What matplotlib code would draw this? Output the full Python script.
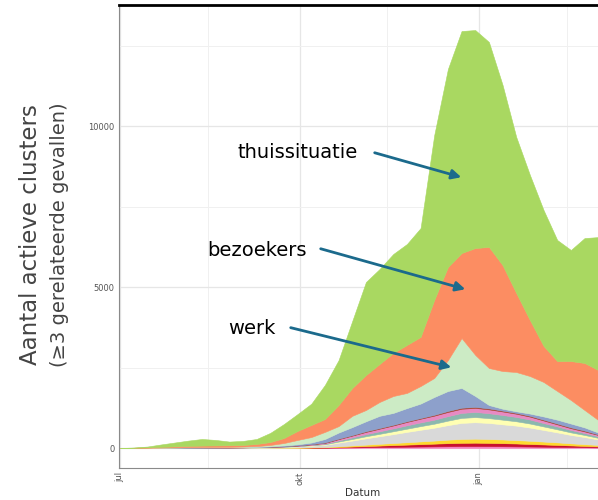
import numpy as np
import pandas as pd
import matplotlib
matplotlib.use('Agg')
import matplotlib.pyplot as plt
import matplotlib.dates as mdates

# weekly dates
datums = pd.date_range('2020-07-01', periods=36, freq='7D')

# number of active clusters per setting (bottom -> top)
roze = [0, 0, 0, 0, 1, 1, 1, 1, 1, 2, 2, 3, 4, 5, 8, 10, 15, 20, 25, 30, 35, 40, 45, 50, 55, 60, 60, 58, 55, 50, 45, 40, 35, 30, 25, 20]
rood = [0, 0, 0, 0, 0, 0, 0, 0, 0, 0, 1, 1, 2, 3, 5, 8, 15, 25, 35, 45, 55, 65, 75, 85, 95, 100, 105, 100, 95, 90, 80, 70, 60, 50, 40, 30]
goud = [0, 0, 0, 0, 1, 1, 1, 1, 1, 1, 2, 3, 4, 6, 10, 14, 25, 35, 45, 55, 65, 75, 85, 95, 110, 120, 125, 120, 115, 105, 100, 90, 80, 65, 55, 45]
grijs = [0, 1, 2, 3, 4, 5, 6, 7, 8, 9, 11, 15, 22, 32, 47, 65, 110, 150, 195, 235, 275, 320, 360, 400, 450, 500, 510, 500, 470, 450, 410, 360, 310, 260, 220, 170]
lichtgeel = [0, 0, 1, 1, 1, 2, 2, 2, 3, 3, 4, 6, 8, 11, 15, 20, 35, 50, 65, 75, 90, 100, 115, 125, 140, 155, 160, 150, 145, 135, 125, 110, 95, 80, 65, 50]
teal = [0, 0, 0, 1, 1, 1, 2, 2, 2, 3, 3, 4, 6, 9, 13, 20, 35, 50, 65, 80, 90, 105, 115, 125, 140, 155, 160, 152, 145, 135, 125, 105, 90, 75, 60, 50]
magenta = [0, 1, 1, 1, 1, 2, 2, 2, 2, 3, 4, 5, 7, 10, 15, 22, 40, 55, 70, 80, 90, 105, 115, 125, 130, 130, 125, 120, 110, 100, 90, 80, 65, 55, 50, 40]
bruin = [0, 0, 0, 0, 0, 0, 0, 1, 1, 1, 1, 1, 2, 4, 7, 11, 15, 15, 20, 20, 20, 20, 20, 25, 30, 30, 30, 30, 25, 25, 25, 25, 25, 25, 25, 15]
blauw = [0, 1, 2, 3, 3, 4, 5, 5, 6, 8, 10, 17, 25, 35, 50, 110, 190, 250, 310, 380, 370, 410, 450, 555, 620, 615, 340, 105, 60, 50, 70, 100, 120, 120, 100, 60]
werk = [0, 1, 2, 5, 8, 10, 11, 11, 12, 15, 22, 40, 75, 135, 170, 220, 200, 350, 350, 430, 525, 470, 545, 590, 960, 1550, 1275, 1150, 1170, 1220, 1165, 1070, 890, 730, 540, 390]
bezoekers = [0, 4, 10, 21, 30, 39, 45, 48, 49, 50, 65, 90, 155, 280, 375, 400, 655, 865, 1085, 1180, 1335, 1490, 1525, 2425, 2890, 2640, 3320, 3760, 3290, 2455, 1740, 1120, 930, 1210, 1460, 1550]
thuis = [0, 7, 27, 75, 120, 165, 205, 170, 115, 125, 155, 285, 435, 525, 660, 1060, 1395, 2080, 2890, 2950, 3075, 3135, 3380, 5120, 6150, 6895, 6770, 6365, 5595, 4845, 4505, 4220, 3760, 3450, 3880, 4130]

lagen = [roze, rood, goud, grijs, lichtgeel, teal, magenta, bruin, blauw, werk, bezoekers, thuis]
kleuren = ['#F781BF', '#C8102E', '#FFD92F', '#D9D9D9', '#FFFFB3', '#8CB8AE',
           '#E78AC3', '#A6402A', '#8DA0CB', '#CCEBC5', '#FC8D62', '#A9D861']

fig = plt.figure(figsize=(5.98, 5.0), dpi=100)
ax = fig.add_axes([119 / 598, 32 / 500, (607 - 119) / 598, (468 - 5) / 500])

ax.stackplot(datums, *lagen, colors=kleuren, linewidth=0.4, edgecolor='face')

# assen
x0 = pd.Timestamp('2020-07-01') - pd.Timedelta(hours=12)
ax.set_xlim(mdates.date2num(x0), mdates.date2num(x0) + 250)
ax.set_ylim(-621, 13758)

ax.set_xticks(pd.to_datetime(['2020-07-01', '2020-10-01', '2021-01-01']))
ax.set_xticklabels(['jul', 'okt', 'jan'], rotation=90, fontsize=6, color='#555555')
ax.set_xticks(pd.to_datetime(['2020-08-15', '2020-11-15', '2021-02-15']), minor=True)
ax.set_yticks([0, 5000, 10000])
ax.set_yticklabels(['0', '5000', '10000'], fontsize=6, color='#555555')
ax.set_yticks([2500, 7500, 12500], minor=True)
ax.tick_params(which='both', length=0, pad=3)

ax.grid(which='major', color='#e6e6e6', linewidth=0.9)
ax.grid(which='minor', color='#f0f0f0', linewidth=0.7)
ax.set_axisbelow(True)

ax.spines['right'].set_visible(False)
ax.spines['top'].set_color('black')
ax.spines['top'].set_linewidth(2)
ax.spines['left'].set_color('#8a8a8a')
ax.spines['bottom'].set_color('#8a8a8a')

ax.set_xlabel('Datum', fontsize=7.5, color='#333333', labelpad=2)

# y-as label in twee regels
fig.text(31 / 598, 0.53, 'Aantal actieve clusters', rotation=90, fontsize=16.5,
         color='#444444', ha='center', va='center')
fig.text(60 / 598, 0.53, '(≥3 gerelateerde gevallen)', rotation=90, fontsize=14,
         color='#444444', ha='center', va='center')

# pijlen met tekst
pijl = dict(arrowstyle='-|>', color='#1B6A8C', lw=2, mutation_scale=14)

def label(tekst, tekst_xy, punt_xy):
    t = fig.text(tekst_xy[0] / 598, 1 - tekst_xy[1] / 500, tekst, fontsize=14,
                 ha='center', va='center', color='black')
    ax.annotate('', xy=(punt_xy[0] / 598, 1 - punt_xy[1] / 500), xycoords='figure fraction',
                xytext=(punt_xy[2] / 598, 1 - punt_xy[3] / 500), textcoords='figure fraction',
                arrowprops=pijl)
    return t

label('thuissituatie', (298, 153), (464, 178, 372, 152))
label('bezoekers', (257, 250), (468, 290, 318, 248))
label('werk', (252, 328), (454, 368, 288, 327))

fig.savefig('out.png', dpi=100)
